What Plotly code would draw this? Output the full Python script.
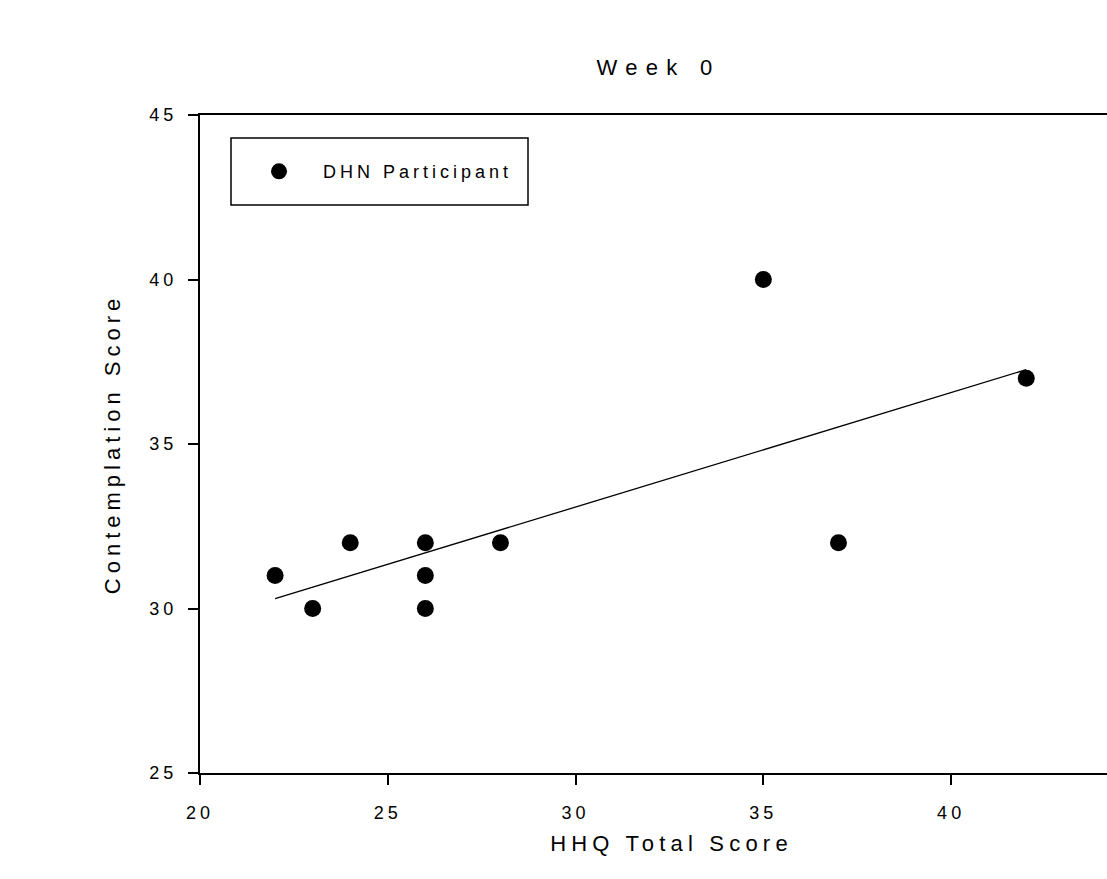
import plotly.graph_objects as go

# Data
hhq_total = [22, 23, 24, 26, 26, 26, 28, 35, 37, 42]
contemplation = [31, 30, 32, 32, 31, 30, 32, 40, 32, 37]
fit_x = [22, 42]
fit_y = [30.3, 37.26]

x_ticks = [20, 25, 30, 35, 40]
y_ticks = [25, 30, 35, 40, 45]

FONT = "Liberation Sans, Arial, sans-serif"

fig = go.Figure()
fig.add_trace(go.Scatter(
    x=hhq_total, y=contemplation, mode="markers", name="DHN Participant",
    marker=dict(color="black", size=17, line=dict(width=0)),
))
fig.add_trace(go.Scatter(
    x=fit_x, y=fit_y, mode="lines", showlegend=False,
    line=dict(color="black", width=1.3),
))

fig.update_layout(
    width=1107, height=879,
    margin=dict(l=200, r=0, t=115, b=106),
    paper_bgcolor="white", plot_bgcolor="white",
    font=dict(family=FONT, color="black", size=18),
    title=dict(text="Week 0", x=0.5 + 5 / 907, xref="paper", xanchor="center",
               y=1 - 67 / 879, yanchor="middle", font=dict(size=22)),
    showlegend=True,
    legend=dict(x=0.0386, y=0.942, xanchor="left", yanchor="top",
                bgcolor="rgba(0,0,0,0)", borderwidth=0,
                font=dict(size=18), itemwidth=78),
    shapes=[dict(type="rect", xref="paper", yref="paper",
                 x0=31 / 907, x1=328 / 907, y0=(773 - 205) / 658, y1=(773 - 138) / 658,
                 line=dict(color="black", width=1.5), fillcolor="rgba(0,0,0,0)")],
)

fig.update_xaxes(
    range=[20, 44.15], tickvals=x_ticks, ticktext=[str(v) for v in x_ticks],
    showgrid=False, zeroline=False, showline=True, linecolor="black", linewidth=2,
    mirror=True, ticks="outside", ticklen=10, tickwidth=2, tickcolor="black",
    ticklabelstandoff=12,
    title=dict(text="HHQ Total Score", font=dict(size=22), standoff=14),
)
fig.update_yaxes(
    range=[25, 45], tickvals=y_ticks, ticktext=[str(v) for v in y_ticks],
    showgrid=False, zeroline=False, showline=True, linecolor="black", linewidth=2,
    ticks="outside", ticklen=10, tickwidth=2, tickcolor="black",
    ticklabelstandoff=7,
    title=dict(text="Contemplation Score", font=dict(size=22), standoff=31),
)

post = """
var gd = document.getElementById('{plot_id}');
function sp(sel, v){ gd.querySelectorAll(sel).forEach(function(t){ t.style.letterSpacing = v; }); }
function apply(){
  sp('.gtitle', '8.3px'); sp('.xtitle', '5.2px'); sp('.ytitle', '5px');
  sp('.xtick text', '4px'); sp('.ytick text', '4px'); sp('.legendtext', '4px');
  gd.querySelectorAll('.legend [clip-path]').forEach(function(e){ e.removeAttribute('clip-path'); });
  var xt = gd.querySelector('.xtitle');
  if (xt) { xt.setAttribute('transform', 'translate(18,0)'); }
}
apply();
gd.on('plotly_afterplot', apply);
"""

fig.write_html("out.html", post_script=post)
